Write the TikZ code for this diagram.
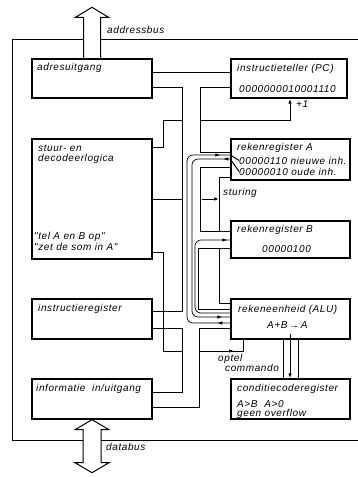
\documentclass[tikz,border=0pt]{standalone}
\usepackage{fontspec}
\newfontfamily\blokletter{Liberation Sans}[LetterSpace=6.0]
\usetikzlibrary{arrows.meta,decorations.markings}

\begin{document}
\begin{tikzpicture}[x=1pt,y=-1pt,
  blok/.style={draw, line width=1.4pt, inner sep=0pt},
  tekst/.style={anchor=base west, inner sep=0pt, font=\blokletter\itshape\fontsize{10}{12}\selectfont},
  lijn/.style={line width=1pt},
  stroom/.style={line width=0.7pt, rounded corners=6pt},
  bus/.style={line width=1pt, line join=miter},
  punt/.style={-{Latex[length=5pt,width=3.5pt]}},
  pijl op/.style={postaction={decorate, decoration={markings,
    mark=at position #1 with {\arrow{Latex[length=5pt,width=3.5pt]}}}}}]
\useasboundingbox (0,0) rectangle (358,477);

% blokken
\node[blok, minimum width=120pt, minimum height=39pt] (adres) at (92,78.5) {};
\node[blok, minimum width=116pt, minimum height=39pt] (pc) at (289,78.5) {};
\node[blok, minimum width=120pt, minimum height=120pt] (stuur) at (92,199) {};
\node[blok, minimum width=119pt, minimum height=41pt] (regA) at (290.5,159.5) {};
\node[blok, minimum width=119pt, minimum height=37pt] (regB) at (290.5,239.5) {};
\node[blok, minimum width=120pt, minimum height=40pt] (instr) at (92,319) {};
\node[blok, minimum width=119pt, minimum height=40pt] (alu) at (290.5,319) {};
\node[blok, minimum width=120pt, minimum height=40pt] (info) at (92,399) {};
\node[blok, minimum width=119pt, minimum height=40pt] (ccr) at (290.5,399) {};

% teksten
\node[tekst] (adresT) at (37,70) {adresuitgang};
\node[tekst] (pcT) at (237,71) {instructieteller (PC)};
\node[tekst] (pcW) at (239,92) {0000000010001110};
\node[tekst] (stuurT) at (38,151) {stuur- en};
\node[tekst] (stuurU) at (38,161) {decodeerlogica};
\node[tekst] (telT) at (34,239) {"tel A en B op"};
\node[tekst] (zetT) at (34,250) {"zet de som in A"};
\node[tekst] (regAT) at (237,150) {rekenregister A};
\node[tekst] (nieuwT) at (239,164) {00000110 nieuwe inh.};
\node[tekst] (oudT) at (239,175) {00000010 oude inh.};
\node[tekst] (regBT) at (237,232) {rekenregister B};
\node[tekst] (regBW) at (262,252) {00000100};
\node[tekst] (instrT) at (38,311) {instructieregister};
\node[tekst] (aluT) at (238,312) {rekeneenheid (ALU)};
\node[tekst] (aluW) at (267,328) {A+B\,→\,A};
\node[tekst] (infoT) at (36,391) {informatie\ \ in/uitgang};
\node[tekst] (ccrT) at (237,391) {conditiecoderegister};
\node[tekst] (ccrW) at (237,407) {A>B\ \ A>0};
\node[tekst] (ccrU) at (237,416) {geen overflow};
\node[tekst] (sturT) at (223,195) {sturing};
\node[tekst] (plusT) at (296,107) {+1};
\node[tekst] (optelT) at (218,361) {optel};
\node[tekst] (cmdT) at (225,371) {commando};
\node[tekst] (abusT) at (107,33) {addressbus};
\node[tekst] (dbusT) at (106,450) {databus};

% kader
\draw[lijn] (83,39) -- (12,39) -- (12,440) -- (83,440);
\draw[lijn] (100,39) -- (360,39);
\draw[lijn] (101,440) -- (360,440);

% adres- en databus
\draw[bus] ([xshift=-8.5pt]adres.north) -- ++(0,-41) -- ++(-8,0) -- ++(16.5,-10)
  -- ++(16.5,10) -- ++(-8,0) -- ([xshift=8.5pt]adres.north);
\draw[bus] (info.south) -- ++(17,10) -- ++(-8,0) -- ++(0,33) -- ++(8,0) -- ++(-17,10)
  -- ++(-17,-10) -- ++(8,0) -- ++(0,-33) -- ++(-8,0) -- cycle;

% interne bus
\draw[lijn] (adres.east |- 0,72) -- (pc.west |- 0,72);
\draw[lijn] (adres.east |- 0,87) -- (182,87) -- (182,311) -- (instr.east |- 0,311);
\draw[lijn] (instr.east |- 0,328) -- (182,328) -- (182,392) -- (info.east |- 0,392);
\draw[lijn] (pc.west |- 0,87) -- (200,87) -- (200,152) -- (regA.west |- 0,152);
\draw[lijn] (regA.west |- 0,167) -- (200,167) -- (200,231) -- (regB.west |- 0,231);
\draw[lijn] (regB.west |- 0,248) -- (198,248) -- (198,309) -- (alu.west |- 0,309);
\draw[lijn] (alu.west |- 0,328) -- (199,328) -- (199,407) -- (info.east |- 0,407);

% datastromen
\draw[stroom, pijl op=13pt, pijl op=-10pt] (alu.west |- 0,323) -- (187,323) -- (187,155) -- (regA.west |- 0,155);
\draw[stroom, pijl op=7pt, pijl op=-8pt] (regA.west |- 0,159) -- (192,159) -- (192,317) -- (alu.west |- 0,317);
\draw[stroom, pijl op=-3pt] (alu.west |- 0,313) -- (195,313) -- (195,240) -- (regB.west |- 0,240);
\draw[lijn] (regA.west |- 0,155) -- (nieuwT.west);
\draw[lijn] (regA.west |- 0,159) -- (oudT.west);

% sturing
\draw[lijn] (regA.west |- 0,177) -- (219,177) -- (219,231);
\draw[lijn] (219,248) -- (219,303) -- (alu.west |- 0,303);
\draw[lijn] (stuur.east) -- (182,199);
\draw[lijn, punt] (202,199) -- (219,199);

% +1
\draw[lijn] (stuur.east |- 0,147) -- (163,147) -- (163,120) -- (182,120);
\draw[lijn, punt] (200,120) -- (290,120) -- (pc.south -| 290,0);

% optel commando
\draw[lijn] (stuur.east |- 0,252) -- (163,252) -- (163,351) -- (182,351);
\draw[lijn, pijl op=34pt] (200,351) -- (243,351) -- (alu.south -| 243,0);

% naar conditiecoderegister
\draw[lijn] (alu.south -| 283,0) -- (ccr.north -| 283,0);
\draw[lijn] (alu.south -| 298,0) -- (ccr.north -| 298,0);
\draw[lijn, punt] ([yshift=6pt]alu.south -| 290,0) -- (ccr.north -| 290,0);
\end{tikzpicture}
\end{document}
